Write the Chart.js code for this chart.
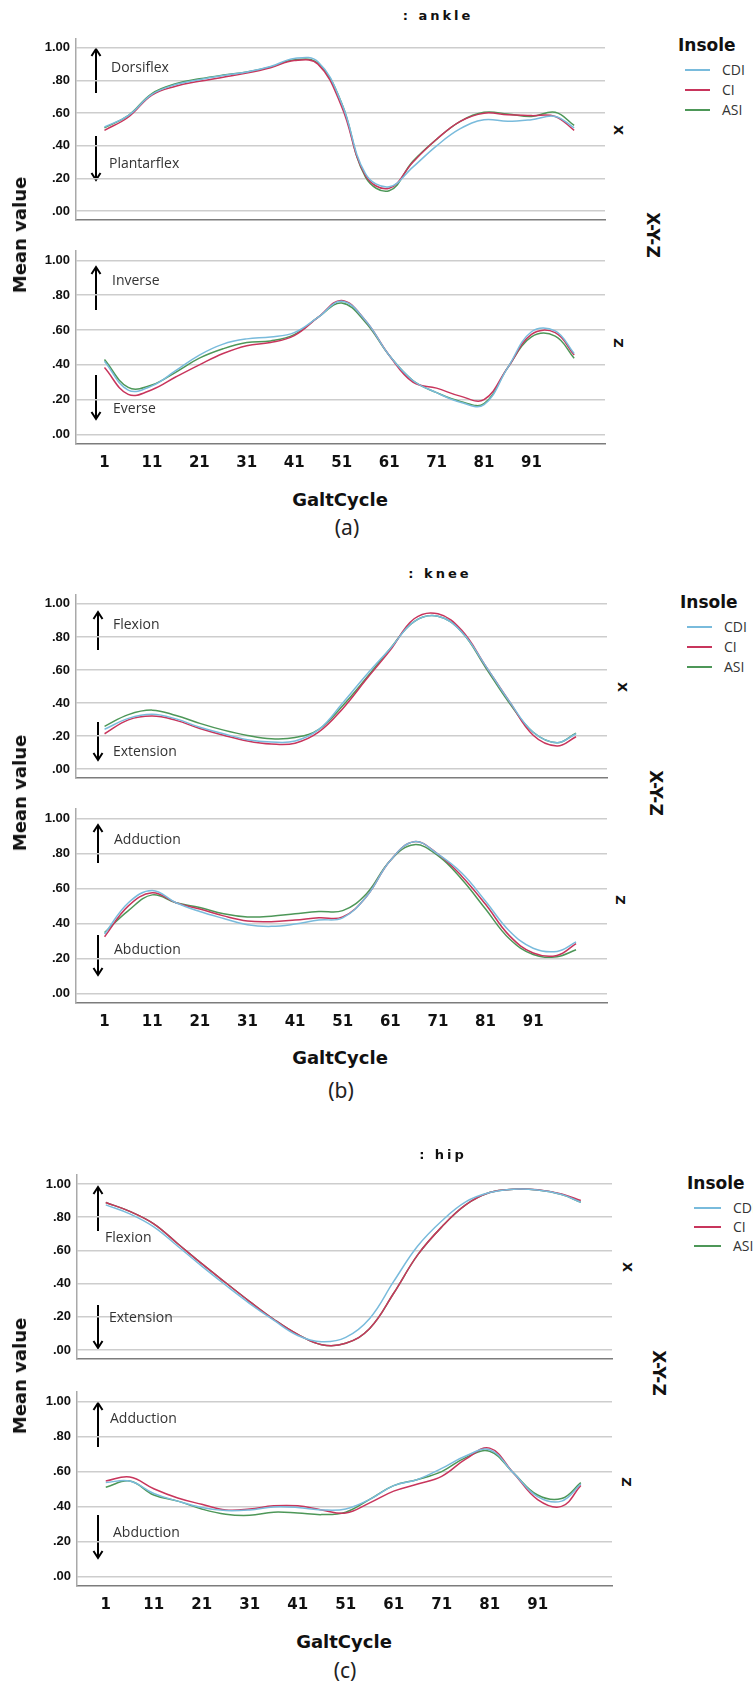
<!DOCTYPE html>
<html>
<head>
<meta charset="utf-8">
<script src="https://cdn.jsdelivr.net/npm/chart.js@4.4.1/dist/chart.umd.min.js"></script>
<style>
  body { margin: 0; width: 753px; height: 1684px; background: #fff; position: relative; overflow: hidden; }
  canvas { position: absolute; left: 0; }
  .txt { position: absolute; white-space: nowrap; color: #111; line-height: 1; }
  .heavy { font-family: 'DejaVu Sans', sans-serif; font-weight: bold; }
  .center { transform: translate(-50%, -50%); }
  .note { font-family: 'Open Sans', sans-serif; font-size: 14px; color: #333; transform: translateY(-50%); }
  .legend-item { font-family: 'Open Sans', sans-serif; font-size: 14px; color: #333; transform: translateY(-50%); }
  #arrows { position: absolute; left: 0; top: 0; }
</style>
</head>
<body>
<svg id="arrows" width="753" height="1684"></svg>
<script>
// Gait cycle chart (ankle / knee / hip)

// Sample positions along the gait cycle and axis ticks
const gaitCycle = [1, 6, 11, 16, 21, 26, 31, 36, 41, 46, 51, 56, 61, 66, 71, 76, 81, 86, 91, 96, 100];
const xTickValues = [1, 11, 21, 31, 41, 51, 61, 71, 81, 91];
const yTickValues = [0, 0.2, 0.4, 0.6, 0.8, 1.0];
const insoles = ['CDI', 'CI', 'ASI'];
const insoleColors = ['#79bbdc', '#c8355c', '#4d9758'];

// Ankle
const ankleXCDI = [0.515, 0.585, 0.715, 0.775, 0.805, 0.83, 0.852, 0.885, 0.935, 0.915, 0.66, 0.23, 0.15, 0.27, 0.40, 0.505, 0.56, 0.55, 0.56, 0.58, 0.51];
const ankleXCI = [0.495, 0.575, 0.71, 0.765, 0.795, 0.82, 0.845, 0.878, 0.922, 0.90, 0.64, 0.22, 0.14, 0.30, 0.44, 0.55, 0.60, 0.59, 0.585, 0.58, 0.495];
const ankleXASI = [0.51, 0.585, 0.72, 0.78, 0.81, 0.833, 0.852, 0.882, 0.927, 0.905, 0.66, 0.21, 0.125, 0.305, 0.44, 0.55, 0.605, 0.595, 0.58, 0.605, 0.525];
const ankleZCDI = [0.42, 0.255, 0.279, 0.366, 0.456, 0.519, 0.549, 0.56, 0.585, 0.672, 0.765, 0.655, 0.455, 0.31, 0.24, 0.185, 0.171, 0.384, 0.59, 0.595, 0.465];
const ankleZCI = [0.384, 0.23, 0.257, 0.33, 0.40, 0.465, 0.51, 0.528, 0.568, 0.672, 0.77, 0.655, 0.455, 0.30, 0.266, 0.22, 0.20, 0.384, 0.575, 0.585, 0.456];
const ankleZASI = [0.43, 0.27, 0.284, 0.357, 0.438, 0.492, 0.528, 0.537, 0.573, 0.672, 0.755, 0.645, 0.455, 0.31, 0.24, 0.19, 0.177, 0.384, 0.56, 0.565, 0.438];

// Knee
const kneeXCDI = [0.241, 0.307, 0.332, 0.304, 0.253, 0.214, 0.178, 0.164, 0.17, 0.24, 0.40, 0.571, 0.73, 0.893, 0.925, 0.83, 0.625, 0.41, 0.223, 0.16, 0.214];
const kneeXCI = [0.214, 0.298, 0.321, 0.295, 0.246, 0.205, 0.17, 0.152, 0.157, 0.225, 0.366, 0.545, 0.72, 0.91, 0.94, 0.84, 0.625, 0.41, 0.205, 0.14, 0.196];
const kneeXASI = [0.259, 0.33, 0.357, 0.325, 0.277, 0.236, 0.204, 0.184, 0.191, 0.24, 0.384, 0.553, 0.73, 0.893, 0.925, 0.83, 0.615, 0.40, 0.223, 0.16, 0.218];
const kneeZCDI = [0.339, 0.518, 0.588, 0.518, 0.468, 0.428, 0.392, 0.383, 0.396, 0.419, 0.432, 0.554, 0.76, 0.867, 0.796, 0.688, 0.527, 0.357, 0.258, 0.24, 0.294];
const kneeZCI = [0.324, 0.50, 0.575, 0.518, 0.482, 0.443, 0.414, 0.41, 0.419, 0.432, 0.437, 0.554, 0.76, 0.867, 0.796, 0.67, 0.509, 0.33, 0.231, 0.217, 0.285];
const kneeZASI = [0.348, 0.473, 0.563, 0.518, 0.491, 0.455, 0.437, 0.441, 0.455, 0.468, 0.473, 0.57, 0.76, 0.85, 0.787, 0.652, 0.482, 0.312, 0.222, 0.21, 0.249];

// Hip
const hipXCDI = [0.874, 0.82, 0.742, 0.625, 0.505, 0.39, 0.28, 0.18, 0.088, 0.05, 0.076, 0.19, 0.413, 0.626, 0.777, 0.892, 0.948, 0.968, 0.963, 0.936, 0.89];
const hipXCI = [0.888, 0.835, 0.76, 0.64, 0.52, 0.405, 0.292, 0.185, 0.094, 0.032, 0.041, 0.13, 0.342, 0.573, 0.741, 0.874, 0.948, 0.968, 0.965, 0.94, 0.90];
const hipXASI = [0.888, 0.835, 0.76, 0.64, 0.52, 0.405, 0.292, 0.185, 0.094, 0.032, 0.041, 0.13, 0.342, 0.573, 0.741, 0.874, 0.948, 0.968, 0.963, 0.936, 0.89];
const hipZCDI = [0.536, 0.545, 0.474, 0.43, 0.394, 0.376, 0.38, 0.397, 0.394, 0.38, 0.385, 0.44, 0.519, 0.554, 0.617, 0.688, 0.724, 0.59, 0.456, 0.43, 0.528];
const hipZCI = [0.545, 0.568, 0.501, 0.448, 0.412, 0.38, 0.385, 0.403, 0.403, 0.38, 0.362, 0.42, 0.487, 0.528, 0.572, 0.67, 0.733, 0.59, 0.439, 0.40, 0.519];
const hipZASI = [0.51, 0.545, 0.465, 0.43, 0.385, 0.355, 0.349, 0.367, 0.362, 0.353, 0.367, 0.44, 0.519, 0.554, 0.599, 0.679, 0.715, 0.59, 0.465, 0.445, 0.536];

// Panel layout (pixel boxes of each plot area and the labels around it)
const panels = [
  {
    title: ': ankle', tag: '(a)', titlePos: [438, 15], tagPos: [347, 527], cyclePos: [340, 500],
    meanPos: [20, 235], xyzPos: [652, 235], legendPos: [678, 45, 25, 20],
    upper: { top: 27, bottom: 232, left: 76, right: 605, series: [ankleXCDI, ankleXCI, ankleXASI], name: 'X', namePos: [618, 130] },
    lower: { top: 239, bottom: 444, left: 76, right: 605, series: [ankleZCDI, ankleZCI, ankleZASI], name: 'Z', namePos: [618, 343] },
    notes: [
      ['Dorsiflex', 96, 93, 49, 111, 67], ['Plantarflex', 96, 136, 180, 109, 163],
      ['Inverse', 96, 310, 267, 112, 280], ['Everse', 96, 375, 419, 113, 408],
    ],
  },
  {
    title: ': knee', tag: '(b)', titlePos: [440, 573], tagPos: [341, 1090], cyclePos: [340, 1058],
    meanPos: [20, 793], xyzPos: [655, 793], legendPos: [680, 602, 25, 20],
    upper: { top: 583, bottom: 790, left: 76, right: 607, series: [kneeXCDI, kneeXCI, kneeXASI], name: 'X', namePos: [622, 687] },
    lower: { top: 797, bottom: 1003, left: 76, right: 607, series: [kneeZCDI, kneeZCI, kneeZASI], name: 'Z', namePos: [620, 900] },
    notes: [
      ['Flexion', 98, 650, 612, 113, 624], ['Extension', 98, 722, 760, 113, 751],
      ['Adduction', 98, 863, 825, 114, 839], ['Abduction', 98, 935, 975, 114, 949],
    ],
  },
  {
    title: ': hip', tag: '(c)', titlePos: [443, 1154], tagPos: [345, 1670], cyclePos: [344, 1642],
    meanPos: [20, 1376], xyzPos: [658, 1373], legendPos: [687, 1183, 27, 19],
    upper: { top: 1163, bottom: 1371, left: 77, right: 612, series: [hipXCDI, hipXCI, hipXASI], name: 'X', namePos: [627, 1267] },
    lower: { top: 1380, bottom: 1586, left: 77, right: 612, series: [hipZCDI, hipZCI, hipZASI], name: 'Z', namePos: [626, 1482] },
    notes: [
      ['Flexion', 98, 1231, 1187, 105, 1237], ['Extension', 98, 1305, 1348, 109, 1317],
      ['Adduction', 98, 1447, 1403, 110, 1418], ['Abduction', 98, 1515, 1558, 113, 1532],
    ],
  },
];

// Add a positioned text element
function addText(text, x, y, cls, style) {
  const el = document.createElement('div');
  el.className = 'txt ' + cls;
  el.textContent = text;
  el.style.left = x + 'px';
  el.style.top = y + 'px';
  Object.assign(el.style, style || {});
  document.body.appendChild(el);
  return el;
}

// Draw an arrow with an open head into the svg overlay
function addArrow(x, tail, head) {
  const svg = document.getElementById('arrows');
  const dir = head < tail ? 1 : -1;
  const path = document.createElementNS('http://www.w3.org/2000/svg', 'path');
  path.setAttribute('d', `M${x},${tail} L${x},${head} M${x - 4.5},${head + dir * 7} L${x},${head} L${x + 4.5},${head + dir * 7}`);
  path.setAttribute('stroke', '#000');
  path.setAttribute('stroke-width', '2');
  path.setAttribute('fill', 'none');
  svg.appendChild(path);
}

// Create one subplot of a panel
function createSubplot(box, showTicks) {
  const padTop = 2;
  const padBottom = showTicks ? 0 : 2;
  const xAxisHeight = showTicks ? 40 : 0;
  const width = box.right + 1;
  const height = box.bottom - box.top + padTop + padBottom + xAxisHeight;

  const canvas = document.createElement('canvas');
  canvas.width = width;
  canvas.height = height;
  canvas.style.top = box.top - padTop + 'px';
  canvas.style.width = width + 'px';
  canvas.style.height = height + 'px';
  document.body.appendChild(canvas);

  const chartData = {
    datasets: box.series.map((values, k) => ({
      label: insoles[k],
      data: gaitCycle.map((g, i) => ({ x: g, y: values[i] })),
      borderColor: insoleColors[k],
      borderWidth: 1.5,
      pointRadius: 0,
      tension: 0.4,
      fill: false,
    })),
  };

  const config = {
    type: 'line',
    data: chartData,
    options: {
      responsive: false,
      animation: false,
      events: [],
      layout: { padding: { top: padTop, bottom: padBottom, left: 0, right: 1 } },
      plugins: {
        legend: { display: false },
        tooltip: { enabled: false },
      },
      scales: {
        x: {
          type: 'linear',
          min: -5,
          max: 106.5,
          afterBuildTicks: (scale) => {
            scale.ticks = xTickValues.map((v) => ({ value: v }));
          },
          afterFit: (scale) => {
            scale.height = xAxisHeight;
          },
          grid: { display: false, drawTicks: false },
          border: { display: true, color: '#7c7c7c', width: 1.5 },
          ticks: {
            display: showTicks,
            autoSkip: false,
            maxRotation: 0,
            padding: 10,
            color: '#111',
            font: { family: 'DejaVu Sans', weight: 'bold', size: 15 },
          },
        },
        y: {
          min: -0.055,
          max: 1.055,
          afterBuildTicks: (scale) => {
            scale.ticks = yTickValues.map((v) => ({ value: v }));
          },
          afterFit: (scale) => {
            scale.width = box.left;
          },
          grid: { color: '#cdcdcd', lineWidth: 1.5, drawTicks: false },
          border: { color: '#a9a9a9', width: 1.5 },
          ticks: {
            padding: 6,
            color: '#111',
            callback: (v) => v.toFixed(2).replace(/^0/, ''),
            font: { family: 'Liberation Sans', weight: 'bold', size: 13 },
          },
        },
      },
    },
  };

  return new Chart(canvas, config);
}

// Build every panel
panels.forEach((p) => {
  createSubplot(p.upper, false);
  createSubplot(p.lower, true);

  const turned = 'translate(-50%, -50%) rotate(90deg)';
  addText(p.title, p.titlePos[0], p.titlePos[1], 'heavy center', { fontSize: '13px', letterSpacing: '3px' });
  addText('Mean value', p.meanPos[0], p.meanPos[1], 'heavy', { fontSize: '18px', transform: 'translate(-50%, -50%) rotate(-90deg)' });
  addText('X-Y-Z', p.xyzPos[0], p.xyzPos[1], 'heavy', { fontSize: '17px', transform: turned });
  addText(p.upper.name, p.upper.namePos[0], p.upper.namePos[1], 'heavy', { fontSize: '13px', transform: turned });
  addText(p.lower.name, p.lower.namePos[0], p.lower.namePos[1], 'heavy', { fontSize: '13px', transform: turned });
  addText('GaltCycle', p.cyclePos[0], p.cyclePos[1], 'heavy center', { fontSize: '18px' });
  addText(p.tag, p.tagPos[0], p.tagPos[1], 'center', { fontFamily: "'Noto Sans', sans-serif", fontSize: '21px', color: '#222' });

  // Legend
  const [lx, ly, lineW, gap] = p.legendPos;
  addText('Insole', lx, ly, 'heavy', { fontSize: '17px', transform: 'translateY(-50%)' });
  insoles.forEach((name, k) => {
    const y = ly + 25 + k * gap;
    const line = document.createElement('div');
    Object.assign(line.style, {
      position: 'absolute', left: lx + 7 + 'px', top: y - 1 + 'px',
      width: lineW + 'px', height: '1.5px', background: insoleColors[k],
    });
    document.body.appendChild(line);
    addText(name, lx + 7 + lineW + 12, y, 'legend-item');
  });

  // Direction notes with arrows
  p.notes.forEach(([text, ax, tail, head, tx, ty]) => {
    addArrow(ax, tail, head);
    addText(text, tx, ty, 'note');
  });
});
</script>
</body>
</html>
